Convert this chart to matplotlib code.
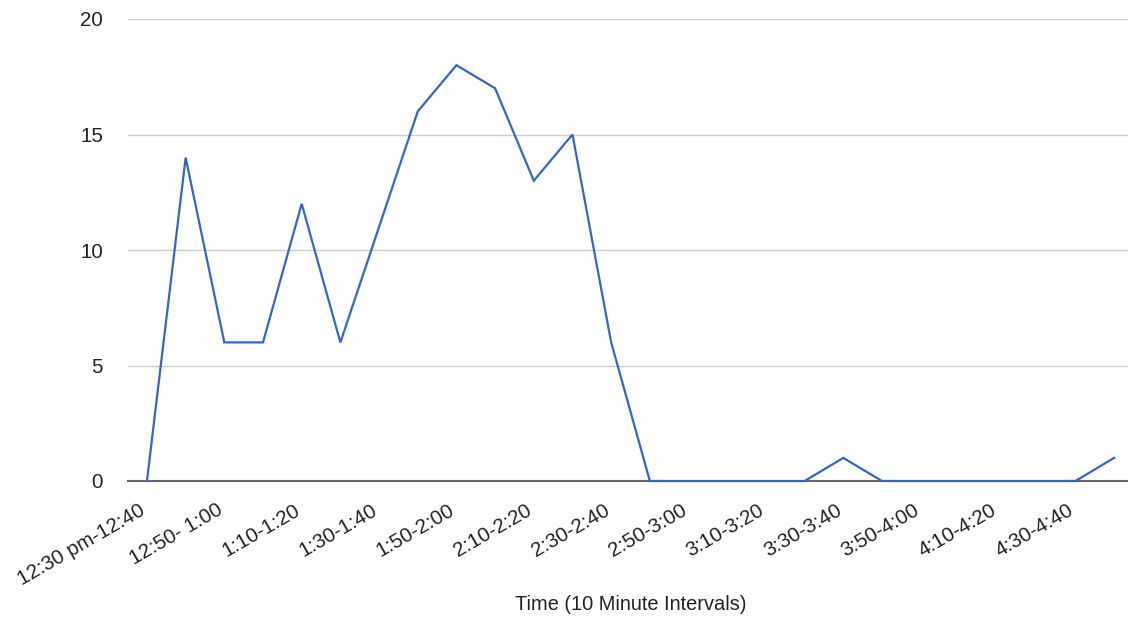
import matplotlib
matplotlib.use("Agg")
import matplotlib.pyplot as plt
import matplotlib.transforms as mtransforms

plt.rcParams['font.family'] = ['Liberation Sans', 'DejaVu Sans']

categories = ["12:30 pm-12:40", "12:40-12:50", "12:50- 1:00", "1:00-1:10", "1:10-1:20", "1:20-1:30",
              "1:30-1:40", "1:40-1:50", "1:50-2:00", "2:00-2:10", "2:10-2:20", "2:20-2:30",
              "2:30-2:40", "2:40-2:50", "2:50-3:00", "3:00-3:10", "3:10-3:20", "3:20-3:30",
              "3:30-3:40", "3:40-3:50", "3:50-4:00", "4:00-4:10", "4:10-4:20", "4:20-4:30",
              "4:30-4:40", "4:40-4:50"]
values = [0, 14, 6, 6, 12, 6, 11, 16, 18, 17, 13, 15, 6, 0, 0, 0, 0, 0, 1, 0, 0, 0, 0, 0, 0, 1]
y_ticks = [0, 5, 10, 15, 20]
x_title = "Time (10 Minute Intervals)"

W, H = 1128, 620
fig = plt.figure(figsize=(W / 100, H / 100), dpi=100)
ax = fig.add_axes([128 / W, 1 - 481 / H, 1000 / W, (481 - 19) / H])

x = list(range(len(categories)))
ax.plot(x, values, color='#3366CC', linewidth=1.6, solid_joinstyle='miter', clip_on=False, zorder=3)

ax.set_xlim(-0.49, 25.36)
ax.set_ylim(0, 20)
ax.set_yticks(y_ticks)
ax.set_yticklabels([str(v) for v in y_ticks], fontsize=14.8, color='#222222')
ax.yaxis.grid(True, color='#cccccc', linewidth=1)
ax.set_axisbelow(True)
ax.tick_params(axis='y', length=0, pad=18)
ax.tick_params(axis='x', length=0, pad=14)

ax.set_xticks(x[::2])
ax.set_xticklabels(categories[::2], rotation=30, ha='right', rotation_mode='anchor',
                   fontsize=14.8, color='#222222')
offset = mtransforms.ScaledTranslation(-8 / 100, 0, fig.dpi_scale_trans)
for lbl in ax.get_xticklabels():
    lbl.set_transform(lbl.get_transform() + offset)

for s in ['top', 'right', 'left']:
    ax.spines[s].set_visible(False)
ax.spines['bottom'].set_color('#666666')
ax.spines['bottom'].set_linewidth(1.5)
ax.spines['bottom'].set_zorder(2)

fig.text(631 / W, 1 - 604 / H, x_title, ha='center', va='center', fontsize=14.4, color='#222222')

fig.savefig("out.png", dpi=100)
